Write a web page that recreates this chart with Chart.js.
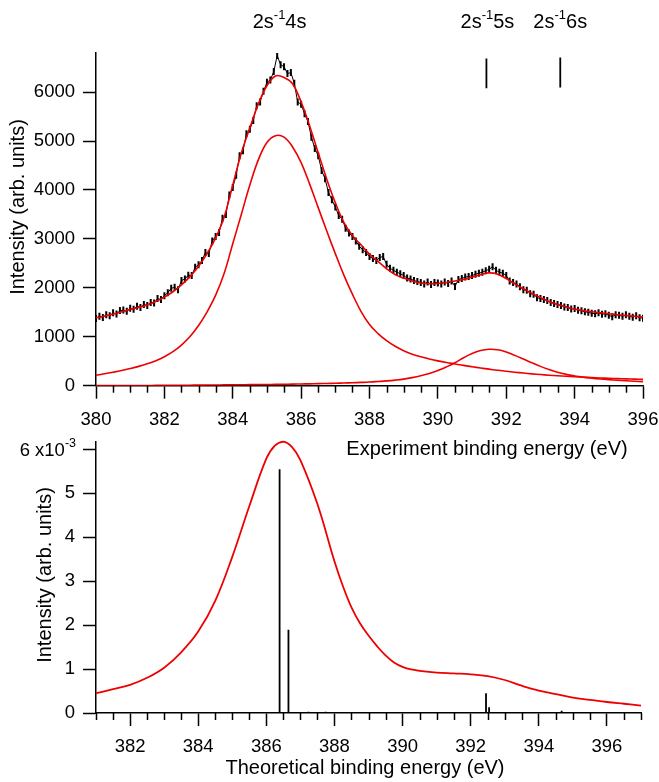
<!DOCTYPE html>
<html><head><meta charset="utf-8">
<script src="https://cdn.jsdelivr.net/npm/chart.js@4"></script>
<style>
html,body{margin:0;padding:0;background:#fff;}
#wrap{position:relative;width:659px;height:782px;overflow:hidden;}
canvas{position:absolute;left:0;}
#c1{top:0;width:659px;height:470px;}
#c2{top:430px;width:659px;height:352px;}
</style></head><body>
<div id="wrap"><canvas id="c1" width="659" height="470"></canvas><canvas id="c2" width="659" height="352"></canvas></div>
<script>
// ---------- TOP PANEL (experiment) ----------
const expStart = 380, expStep = 0.1;
const expCounts = [1375,1420,1395,1450,1430,1490,1465,1535,1545,1520,
 1585,1560,1625,1600,1660,1640,1700,1690,1780,1760,
 1840,1900,1990,2010,1960,2150,2180,2260,2250,2420,
 2470,2560,2720,2700,2960,3050,3130,3420,3500,3900,
 4050,4300,4700,4800,5150,5240,5420,5720,5800,6020,
 6200,6250,6420,6750,6560,6520,6380,6400,6180,5800,
 5750,5560,5400,5080,4850,4700,4400,4230,3950,3800,
 3650,3480,3400,3220,3120,3050,2960,2850,2780,2720,
 2640,2600,2560,2620,2640,2480,2400,2360,2320,2290,
 2250,2200,2180,2150,2130,2110,2080,2120,2070,2110,
 2100,2080,2120,2090,2140,2030,2170,2190,2220,2230,
 2250,2280,2300,2320,2350,2380,2430,2360,2320,2300,
 2250,2140,2110,2080,2020,1960,1950,1880,1870,1800,
 1780,1760,1740,1700,1680,1660,1640,1610,1600,1570,
 1580,1540,1530,1510,1500,1480,1470,1490,1460,1470,
 1440,1410,1450,1440,1420,1450,1420,1400,1430,1390,
 1380];
const fitStart = 380, fitStep = 0.25;
const fitTotal = [1390,1420,1460,1510,1560,1600,1650,1720,1810,1920,2060,2230,2440,2700,3020,3450,
 4100,4750,5270,5760,6130,6330,6300,6170,5800,5310,4760,4220,3740,3340,3070,2880,
 2690,2540,2390,2270,2200,2140,2100,2085,2090,2110,2140,2170,2220,2270,2305,2280,
 2190,2080,1980,1890,1800,1720,1660,1610,1565,1535,1510,1490,1470,1450,1435,1420,1405];
const fitPeak1 = [215,243,275,310,350,395,448,512,592,695,830,1005,1230,1510,1850,2300,
 2900,3500,4100,4620,4970,5110,5080,4880,4560,4120,3640,3160,2700,2260,1870,1520,
 1250,1065,920,805,715,645,590,545,508,475,445,415,388,362,338,315,
 295,276,258,242,228,215,203,192,182,174,166,158,151,145,139,134,129];
const fitPeak2 = [2,2,3,3,4,4,5,6,7,8,9,10,12,13,14,16,
 18,19,21,23,25,27,29,32,35,38,42,46,50,55,60,67,
 75,86,98,114,135,165,203,250,310,385,470,570,660,720,745,735,
 690,620,545,468,395,330,275,232,200,175,155,138,124,112,101,91,83];
const topXTicks = [380,382,384,386,388,390,392,394,396];
const topYTicks = [0,1000,2000,3000,4000,5000,6000];
const markerE = [391.42, 393.58];
const markerLo = [6080, 6095];
const markerHi = [6690, 6710];
const peakLabelE = [385.37, 391.45, 393.58];
const peakLabels = [['2s','-1','4s'],['2s','-1','5s'],['2s','-1','6s']];

// ---------- BOTTOM PANEL (theory) ----------
const theoE = [381,381.5,382,382.5,383,383.5,384,384.5,385,385.5,386,386.25,386.5,386.75,387,387.5,388,388.25,388.5,388.75,389,389.25,389.5,389.75,390,390.25,390.5,391,391.5,392,392.5,393,393.5,394,394.5,395,395.5,396,396.5,397];
const theoY = [0.45,0.54,0.64,0.8,1.03,1.38,1.85,2.55,3.55,4.7,5.78,6.08,6.17,6.05,5.75,4.75,3.45,2.88,2.4,2.04,1.76,1.52,1.31,1.15,1.05,0.99,0.96,0.92,0.9,0.88,0.84,0.75,0.62,0.51,0.43,0.35,0.3,0.25,0.21,0.17];
const stickE = [386.39,386.65,387.24,387.74,392.45,392.54,394.67];
const stickH = [5.54,1.89,0.03,0.03,0.45,0.13,0.05];
const botXTicks = [382,384,386,388,390,392,394,396];
const botYTicks = [0,1,2,3,4,5,6];

// ---------- helpers ----------
const FONT = '"Liberation Sans", Arial, Helvetica, sans-serif';
Chart.defaults.font.family = FONT;
Chart.defaults.font.size = 18;
Chart.defaults.color = '#000';
const RED = '#ee0000';

function series(start, step, vals){ return vals.map((v,i)=>({x: +(start+i*step).toFixed(3), y: v})); }
function drawSup(ctx, parts, x, cy, align, big, small){
  ctx.font = big + 'px ' + FONT; const w1 = ctx.measureText(parts[0]).width;
  const w3 = ctx.measureText(parts[2]).width;
  ctx.font = small + 'px ' + FONT; const w2 = ctx.measureText(parts[1]).width;
  const tot = w1 + w2 + w3;
  const sx = align === 'right' ? x - tot : x - tot/2;
  const base = cy + big * 0.36;
  ctx.textAlign = 'left'; ctx.textBaseline = 'alphabetic';
  ctx.font = big + 'px ' + FONT; ctx.fillText(parts[0], sx, base);
  ctx.font = small + 'px ' + FONT; ctx.fillText(parts[1], sx + w1, base - big * 0.45);
  ctx.font = big + 'px ' + FONT; ctx.fillText(parts[2], sx + w1 + w2, base);
}
function minorTicks(chart, lo, hi, majors){
  const xs = chart.scales.x, ctx = chart.ctx, y0 = chart.chartArea.bottom;
  ctx.save(); ctx.strokeStyle = '#000'; ctx.lineWidth = 1.5;
  for (let v = lo; v <= hi + 1e-9; v += 0.5){
    if (majors.some(m => Math.abs(m - v) < 1e-6)) continue;
    const px = Math.round(xs.getPixelForValue(v)) + 0.5;
    ctx.beginPath(); ctx.moveTo(px, y0); ctx.lineTo(px, y0 + 7); ctx.stroke();
  }
  ctx.restore();
}
function rotText(ctx, txt, x, y){
  ctx.save(); ctx.translate(x, y); ctx.rotate(-Math.PI/2);
  ctx.font = '20px ' + FONT; ctx.textAlign = 'center'; ctx.textBaseline = 'middle';
  ctx.fillText(txt, 0, 0); ctx.restore();
}
function axisX(min, max, ticks, h){
  return { type:'linear', min, max,
    afterBuildTicks: s => { s.ticks = ticks.map(v => ({value:v})); },
    afterFit: s => { s.height = h; s.paddingLeft = 0; s.paddingRight = 0; },
    grid: { display:true, drawOnChartArea:false, drawTicks:true, tickLength:13, tickColor:'#000', tickWidth:1.5 },
    border: { display:true, color:'#000', width:1.5 },
    ticks: { padding: 10, maxRotation:0, autoSkip:false, callback: v => String(v), font:{size:18.5} } };
}
function axisY(min, max, ticks, cb){
  return { type:'linear', min, max,
    afterBuildTicks: s => { s.ticks = ticks.map(v => ({value:v})); },
    afterFit: s => { s.width = 96; s.paddingTop = 0; s.paddingBottom = 0; },
    grid: { display:true, drawOnChartArea:false, drawTicks:true, tickLength:13, tickColor:'#000', tickWidth:1.5 },
    border: { display:true, color:'#000', width:1.5 },
    ticks: { padding: 8, autoSkip:false, callback: cb, font:{size:18.5} } };
}
const redLine = (data) => ({ data, showLine:true, borderColor:RED, borderWidth:1.6, pointRadius:0, tension:0.4 });

// ---------- top chart ----------
const topPlugin = { id:'topDeco', afterDraw(chart){
  const ctx = chart.ctx, xs = chart.scales.x;
  minorTicks(chart, 380, 396, topXTicks);
  ctx.save(); ctx.fillStyle = '#000';
  peakLabels.forEach((p,i) => drawSup(ctx, p, xs.getPixelForValue(peakLabelE[i]), 21, 'center', 20, 13));
  rotText(ctx, 'Intensity (arb. units)', 18, 207);
  ctx.font = '20px ' + FONT; ctx.textAlign = 'center'; ctx.textBaseline = 'middle';
  ctx.fillText('Experiment binding energy (eV)', 487, 449);
  ctx.restore();
}};
const markerData = [];
markerE.forEach((e,i) => { markerData.push({x:e,y:markerLo[i]},{x:e,y:markerHi[i]},{x:e,y:null}); });

new Chart(document.getElementById('c1'), {
  type:'scatter',
  data:{ datasets:[
    redLine(series(fitStart, fitStep, fitTotal)),
    redLine(series(fitStart, fitStep, fitPeak1)),
    redLine(series(fitStart, fitStep, fitPeak2)),
    { data: series(expStart, expStep, expCounts), showLine:true, borderColor:'#000', borderWidth:1, pointStyle:'line', rotation:90, pointRadius:3.5, pointBorderWidth:2, pointBorderColor:'#000', pointBackgroundColor:'#000' },
    { data: markerData, showLine:true, spanGaps:false, borderColor:'#000', borderWidth:1.8, pointRadius:0 }
  ]},
  options:{ responsive:false, animation:false, events:[],
    layout:{ padding:{ top:53, right:16, left:0, bottom:0 } },
    plugins:{ legend:{display:false}, tooltip:{enabled:false} },
    scales:{ x: axisX(380, 396, topXTicks, 84.3), y: axisY(0, 6800, topYTicks, v => String(v)) } },
  plugins:[topPlugin]
});

// ---------- bottom chart ----------
const botPlugin = { id:'botDeco', afterDraw(chart){
  const ctx = chart.ctx, ys = chart.scales.y;
  minorTicks(chart, 381, 397, botXTicks);
  ctx.save(); ctx.fillStyle = '#000';
  drawSup(ctx, ['6 x10','-3',''], 76, ys.getPixelForValue(6), 'right', 18.5, 12.5);
  rotText(ctx, 'Intensity (arb. units)', 45, 145);
  ctx.font = '20px ' + FONT; ctx.textAlign = 'center'; ctx.textBaseline = 'middle';
  ctx.fillText('Theoretical binding energy (eV)', 365, 338);
  ctx.restore();
}};
const stickData = [];
stickE.forEach((e,i) => { stickData.push({x:e,y:0},{x:e,y:stickH[i]},{x:e,y:null}); });

new Chart(document.getElementById('c2'), {
  type:'scatter',
  data:{ datasets:[
    Object.assign(redLine(theoE.map((e,i)=>({x:e,y:theoY[i]}))), { borderWidth:1.8, clip:false }),
    { data: stickData, showLine:true, spanGaps:false, borderColor:'#000', borderWidth:1.8, pointRadius:0 }
  ]},
  options:{ responsive:false, animation:false, events:[],
    layout:{ padding:{ top:12, right:18, left:0, bottom:0 } },
    plugins:{ legend:{display:false}, tooltip:{enabled:false} },
    scales:{ x: axisX(381, 397, botXTicks, 69), y: axisY(0, 6.16, botYTicks, v => v === 6 ? '' : String(v)) } },
  plugins:[botPlugin]
});
</script>
</body></html>
